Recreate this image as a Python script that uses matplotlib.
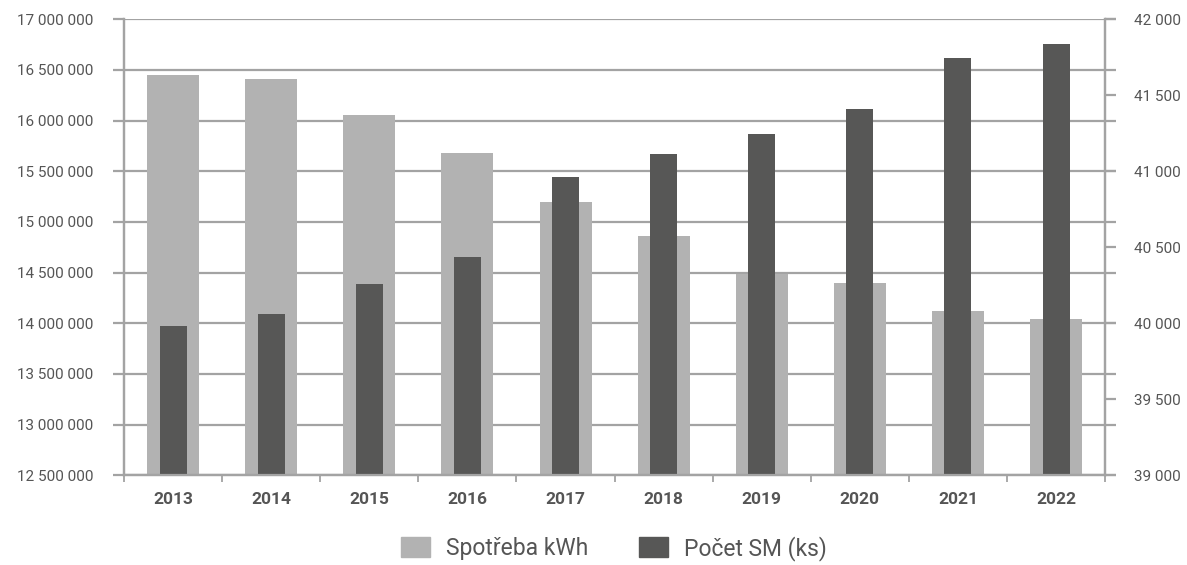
import matplotlib.pyplot as plt
from matplotlib.ticker import FuncFormatter, MultipleLocator
from matplotlib.patches import Patch

years = ['2013', '2014', '2015', '2016', '2017', '2018', '2019', '2020', '2021', '2022']
spotreba = [16450000, 16410000, 16050000, 15680000, 15195000, 14860000, 14485000, 14400000, 14120000, 14040000]
pocet_sm = [39980, 40060, 40257, 40434, 40961, 41112, 41243, 41408, 41743, 41836]

light = '#b2b2b2'
dark = '#575756'
grid_c = '#a3a3a3'
text_c = '#555555'

plt.rcParams['font.family'] = ['Roboto', 'DejaVu Sans']


def spaced(v, pos):
    return '{:,.0f}'.format(v).replace(',', ' ')


fig = plt.figure(figsize=(11.87, 5.65), dpi=100)
ax = fig.add_axes([0.1045, 0.159, 0.8265, 0.807])
ax2 = ax.twinx()

xs = range(len(years))
ax.bar(xs, spotreba, width=0.53, color=light, zorder=2)
ax2.bar(xs, pocet_sm, width=0.275, color=dark, zorder=2)

ax.set_xlim(-0.5, len(years) - 0.5)
ax.set_ylim(12500000, 17000000)
ax2.set_ylim(39000, 42000)
ax.yaxis.set_major_locator(MultipleLocator(500000))
ax2.yaxis.set_major_locator(MultipleLocator(500))
ax.yaxis.set_major_formatter(FuncFormatter(spaced))
ax2.yaxis.set_major_formatter(FuncFormatter(spaced))

ax.set_axisbelow(True)
ax.yaxis.grid(True, color=grid_c, linewidth=1.6)

ax.set_xticks(list(xs))
ax.set_xticklabels(years, fontweight='bold', fontsize=12.5, color=text_c)
ax.set_xticks([i - 0.5 for i in range(len(years) + 1)], minor=True)
ax.tick_params(axis='x', which='major', length=0, pad=12)
ax.tick_params(axis='x', which='minor', length=5, width=1.3, color=grid_c, direction='out')
ax.tick_params(axis='y', length=8, width=1.6, color=grid_c, labelsize=11,
               labelcolor=text_c, pad=14, right=True)
ax2.tick_params(axis='y', length=8, width=1.6, color=grid_c, labelsize=11,
                labelcolor=text_c, pad=13)

for a in (ax, ax2):
    a.spines['top'].set_visible(False)
    for s in ('left', 'right', 'bottom'):
        a.spines[s].set_color(grid_c)
        a.spines[s].set_linewidth(1.6)

handles = [Patch(color=light, label='Spotřeba kWh'), Patch(color=dark, label='Počet SM (ks)')]
fig.legend(handles=handles, loc='center', bbox_to_anchor=(0.517, 0.03), ncol=2,
           frameon=False, fontsize=16.5, handlelength=1.27, handleheight=1.0,
           columnspacing=2.2, handletextpad=0.7, labelcolor=text_c,
           borderpad=0, borderaxespad=0)

fig.savefig('out.png')
